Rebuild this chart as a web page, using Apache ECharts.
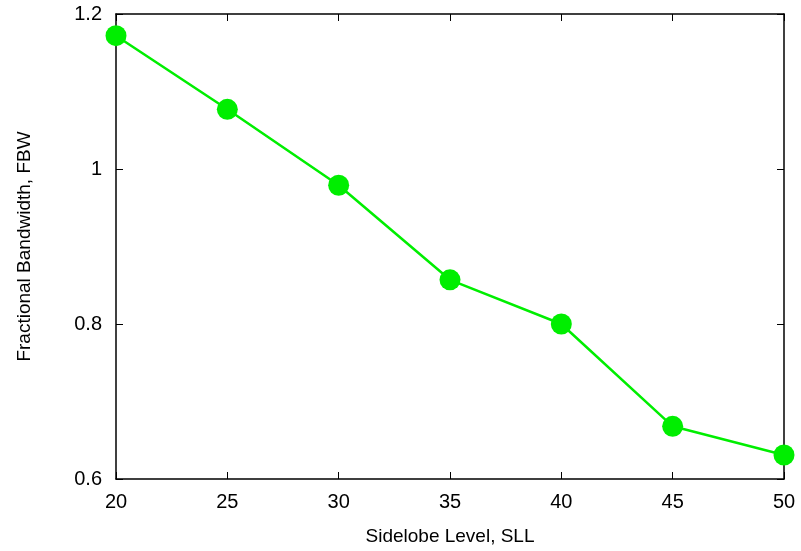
<!DOCTYPE html>
<html><head><meta charset="utf-8">
<script src="https://cdn.jsdelivr.net/npm/echarts@6/dist/echarts.min.js"></script>
<style>html,body{margin:0;padding:0;background:#fff}#c{width:801px;height:551px}</style>
</head><body><div id="c"></div>
<script>
const sll = [20, 25, 30, 35, 40, 45, 50];
const fbw = [1.172, 1.077, 0.979, 0.857, 0.800, 0.668, 0.631];
const xTitle = 'Sidelobe Level, SLL';
const yTitle = 'Fractional Bandwidth, FBW';

const font = 'Liberation Sans, Arial, Helvetica, sans-serif';
const axLine = {show: true, lineStyle: {color: '#000', width: 1.5}};
const tick = {show: true, inside: true, length: 7, lineStyle: {color: '#000', width: 1}};
const chart = echarts.init(document.getElementById('c'));
chart.setOption({
  animation: false,
  backgroundColor: '#fff',
  grid: {left: 116, right: 17, top: 14, bottom: 71, containLabel: false},
  xAxis: [{
    type: 'value', min: 20, max: 50, interval: 5,
    axisLine: axLine, axisTick: tick, splitLine: {show: false},
    axisLabel: {color: '#000', fontSize: 20, fontFamily: font, margin: 13},
    name: xTitle, nameLocation: 'middle', nameGap: 48,
    nameTextStyle: {color: '#000', fontSize: 19, fontFamily: font}
  }, {
    type: 'value', position: 'top', min: 20, max: 50, interval: 5,
    axisLine: axLine, axisTick: tick, axisLabel: {show: false}, splitLine: {show: false}
  }],
  yAxis: [{
    type: 'value', min: 0.6, max: 1.2, interval: 0.2,
    axisLine: axLine, axisTick: tick, splitLine: {show: false},
    axisLabel: {color: '#000', fontSize: 20, fontFamily: font, margin: 14,
      formatter: v => String(parseFloat(v.toFixed(2)))},
    name: yTitle, nameLocation: 'middle', nameGap: 82,
    nameTextStyle: {color: '#000', fontSize: 19, fontFamily: font}
  }, {
    type: 'value', position: 'right', min: 0.6, max: 1.2, interval: 0.2,
    axisLine: axLine, axisTick: tick, axisLabel: {show: false}, splitLine: {show: false}
  }],
  series: [{
    type: 'line',
    data: sll.map((x, i) => [x, fbw[i]]),
    symbol: 'circle', symbolSize: 21, clip: false,
    lineStyle: {color: '#00ee00', width: 2.5},
    itemStyle: {color: '#00ee00'}
  }]
});
</script></body></html>
